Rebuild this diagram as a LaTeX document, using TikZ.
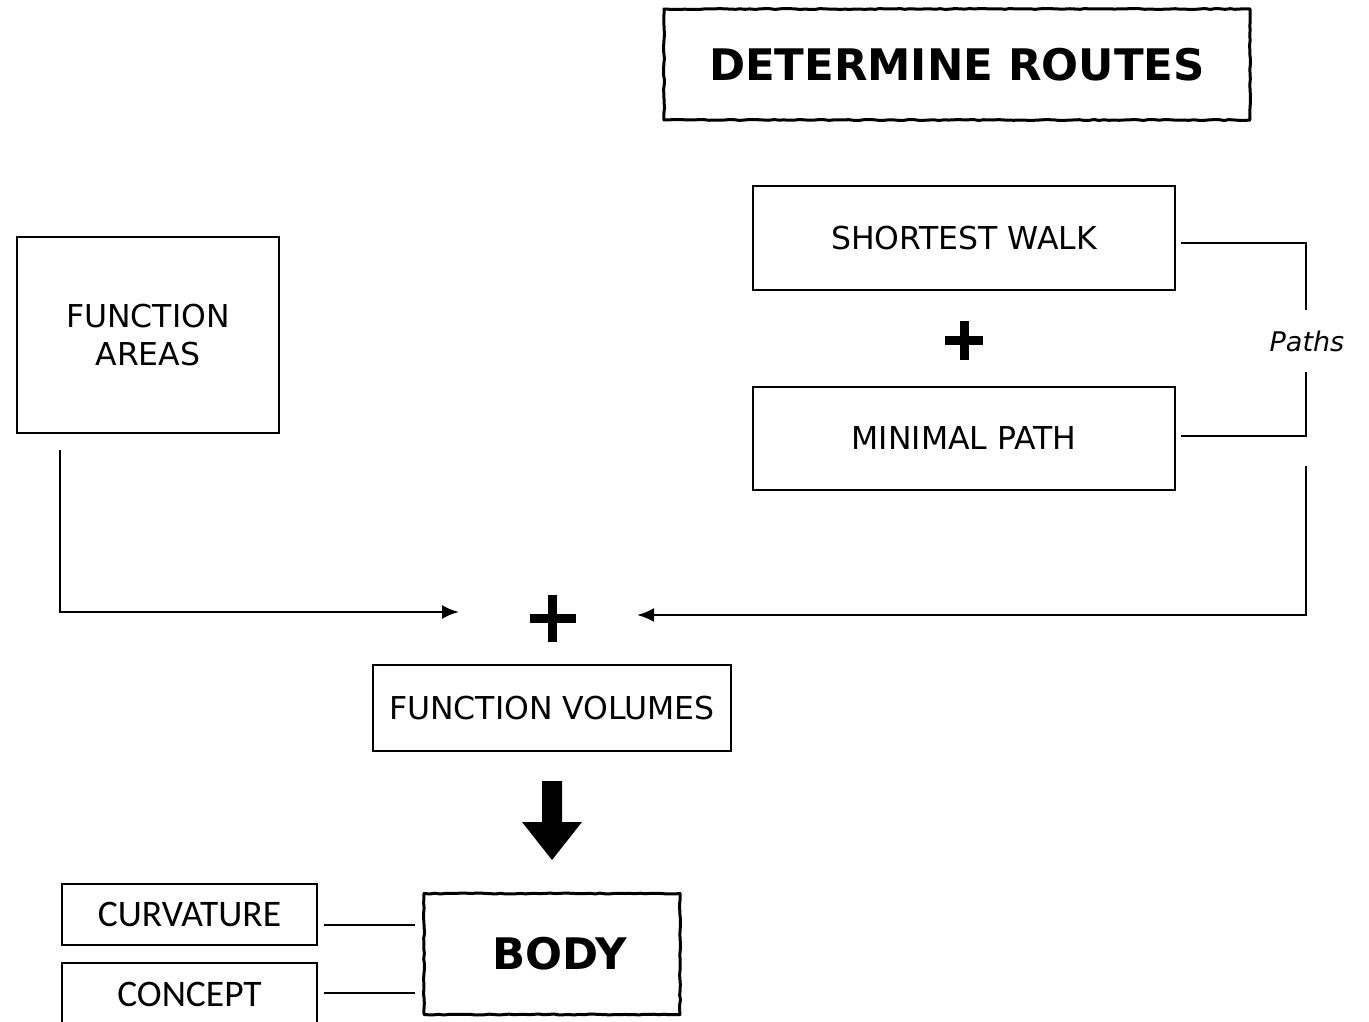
\documentclass[tikz,border=0pt]{standalone}
\usepackage{fontspec}
\setmainfont{DejaVu Sans}
\newfontfamily\calib{Carlito}
\usetikzlibrary{arrows.meta,decorations.pathmorphing}

\begin{document}
\begin{tikzpicture}[x=1pt,y=-1pt,
  box/.style={draw, line width=2.6pt, inner sep=0pt, align=center,
              font=\fontsize{31.5}{38}\selectfont},
  thinbox/.style={draw, line width=2.6pt, inner sep=0pt, align=center,
              font=\calib\fontsize{37.5}{44}\selectfont},
  sketchbox/.style={draw, line width=3pt, line join=round, inner sep=0pt,
              decorate, decoration={random steps, segment length=5pt, amplitude=0.5pt},
              font=\bfseries\fontsize{43.5}{50}\selectfont},
  link/.style={line width=2.5pt},
  arr/.style={line width=2.5pt, -{Latex[length=17pt,width=14pt]}},
  plusbar/.style={line width=9pt}]
\useasboundingbox (0,0) rectangle (1369,1022);

% title
\node[sketchbox, minimum width=586, minimum height=111] (title) at (957,64.5) {DETERMINE ROUTES};

% route types
\node[box, minimum width=422, minimum height=104] (walk) at (964,238) {SHORTEST WALK};
\node[box, minimum width=422, minimum height=103] (minpath) at (964,438.5) {MINIMAL PATH};
\coordinate (plusA) at (964,340.5);
\draw[plusbar] ([xshift=-19]plusA) -- ([xshift=19]plusA);
\draw[plusbar] ([yshift=-19.5]plusA) -- ([yshift=19.5]plusA);

% paths bracket
\node[font=\itshape\fontsize{27}{32}\selectfont] (paths) at (1307,341) {Paths};
\coordinate (bt) at (1306,243);
\coordinate (bb) at (1306,436);
\draw[link] ([xshift=5]walk.east |- bt) -- (bt) -- (1306,310);
\draw[link] (1306,372) -- (bb) -- ([xshift=5]minpath.east |- bb);

% function areas
\node[box, minimum width=262, minimum height=196] (areas) at (148,335) {FUNCTION\\AREAS};

% join
\coordinate (plusB) at (552.5,618.5);
\draw[plusbar] ([xshift=-23]plusB) -- ([xshift=23]plusB);
\draw[plusbar] ([yshift=-23.5]plusB) -- ([yshift=23.5]plusB);
\coordinate (inL) at (459,612);
\coordinate (inR) at (637,615);
\draw[arr] (60,450) -- (60,612) -- (inL);
\draw[arr] (1306,466) -- (1306,615) -- (inR);

% volumes
\node[box, minimum width=358, minimum height=86] (volumes) at (552,708) {FUNCTION VOLUMES};

% block arrow
\fill (542,781) -- (562,781) -- (562,822) -- (582,822) -- (552,860) -- (522,822) -- (542,822) -- cycle;

% body
\node[sketchbox, minimum width=256, minimum height=121] (body) at (552,954) {\hspace*{16pt}BODY};
\node[thinbox, minimum width=255, minimum height=61] (curv) at (189.5,914.5) {CURVATURE};
\node[thinbox, minimum width=255, minimum height=62] (concept) at (189.5,994) {CONCEPT};
\draw[link] ([xshift=6]curv.east |- 0,925) -- ([xshift=-8]body.west |- 0,925);
\draw[link] ([xshift=6]concept.east |- 0,993) -- ([xshift=-8]body.west |- 0,993);
\end{tikzpicture}
\end{document}
